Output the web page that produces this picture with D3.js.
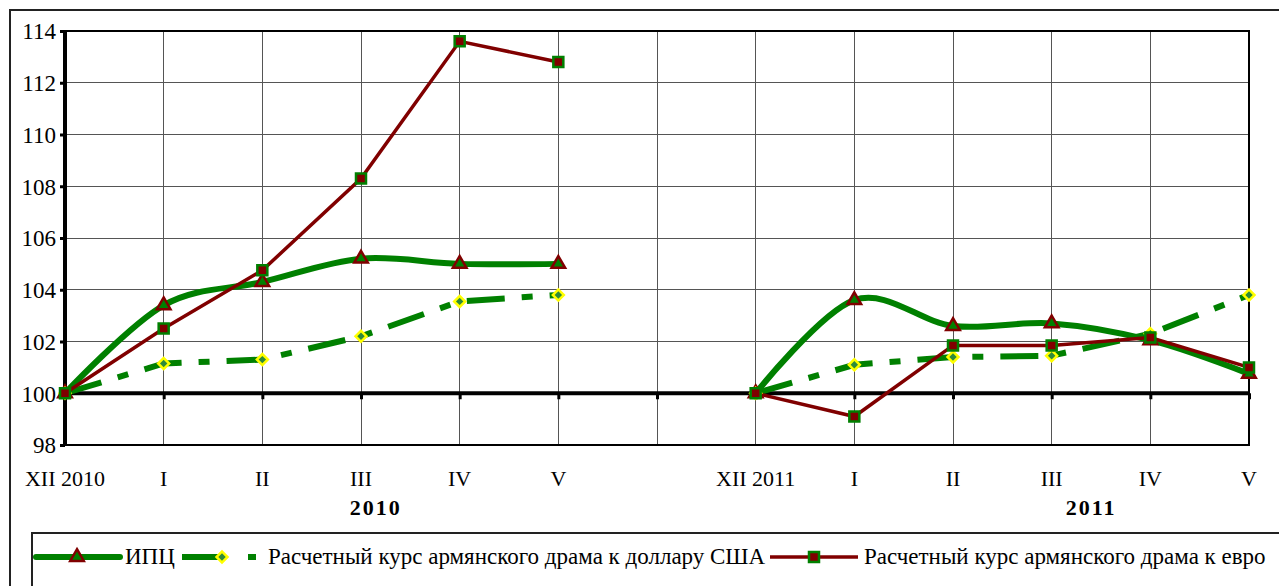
<!DOCTYPE html>
<html lang="ru">
<head>
<meta charset="UTF-8"/>
<title>ИПЦ и курсы драма</title>
<script src="https://d3js.org/d3.v7.min.js"></script>
<style>
	body { margin: 0; background: #fff; }
	.grid line { stroke: #555; stroke-width: 1; shape-rendering: crispEdges; }
</style>
</head>
<body>
<div id="chart"></div>
<script>
// categories (index 6 is the empty slot between the two years)
var categories = ["XII 2010", "I", "II", "III", "IV", "V", "", "XII 2011", "I", "II", "III", "IV", "V"];
var years = [{name: "2010", at: 3.15}, {name: "2011", at: 10.4}];
var yTicks = [98, 100, 102, 104, 106, 108, 110, 112, 114];

// values, null = no value
var cpi = [100, 103.4, 104.3, 105.2, 105.0, 105.0, null, 100, 103.6, 102.6, 102.7, 102.05, 100.75];
var usd = [100, 101.15, 101.3, 102.2, 103.55, 103.8, null, 100, 101.1, 101.4, 101.45, 102.3, 103.8];
var eur = [100, 102.5, 104.75, 108.3, 113.6, 112.8, null, 100, 99.1, 101.85, 101.85, 102.15, 101.0];

var W = 1279, H = 586;
var plot = {left: 65, right: 1249, top: 31, bottom: 445};
var green = "#008000", darkred = "#800000";
var serif = "'Liberation Serif'";

var svg = d3.select("#chart").append("svg")
	.attr("width", W).attr("height", H);

// outer chart border
svg.append("rect")
	.attr("x", 10).attr("y", 10)
	.attr("width", W + 20).attr("height", H + 20)
	.attr("fill", "none").attr("stroke", "#222").attr("stroke-width", 2);

var x = d3.scalePoint()
	.domain(d3.range(categories.length))
	.range([plot.left, plot.right]);
var step = x.step();

var y = d3.scaleLinear()
	.domain([98, 114])
	.range([plot.bottom, plot.top]);

// gridlines
var grid = svg.append("g").attr("class", "grid");
grid.selectAll(".h").data(yTicks).join("line")
	.attr("x1", plot.left).attr("x2", plot.right)
	.attr("y1", function(d){ return y(d); })
	.attr("y2", function(d){ return y(d); });
grid.selectAll(".v").data(d3.range(categories.length)).join("line")
	.attr("x1", function(d){ return x(d); })
	.attr("x2", function(d){ return x(d); })
	.attr("y1", plot.top).attr("y2", plot.bottom);

// plot frame (top, right, bottom)
svg.append("path")
	.attr("d", "M" + plot.left + "," + plot.top + "H" + plot.right + "V" + plot.bottom + "H" + plot.left)
	.attr("fill", "none").attr("stroke", "#000").attr("stroke-width", 2);

// y axis
var yAxis = d3.axisLeft(y).tickValues(yTicks).tickSize(5).tickPadding(4);
var gy = svg.append("g")
	.attr("transform", "translate(" + plot.left + ",0)")
	.call(yAxis)
	.attr("font-family", serif).attr("font-size", 23);
gy.select(".domain").attr("stroke-width", 4).attr("d", "M0," + plot.top + "V" + plot.bottom);
gy.selectAll(".tick line").attr("stroke-width", 3);
gy.selectAll(".tick text").attr("dy", "0.34em").attr("fill", "#000");

// x axis through 100
var xAxis = d3.axisBottom(x).tickSize(6).tickFormat("");
var gx = svg.append("g")
	.attr("transform", "translate(0," + y(100) + ")")
	.call(xAxis);
gx.select(".domain").attr("stroke-width", 4).attr("d", "M" + plot.left + ",0H" + plot.right);
gx.selectAll(".tick line").attr("stroke-width", 3);

// category labels under the plot
svg.selectAll(".cat").data(categories).join("text")
	.attr("font-family", serif).attr("font-size", 22)
	.attr("x", function(d, i){ return x(i); })
	.attr("y", plot.bottom + 41)
	.attr("text-anchor", "middle")
	.text(function(d){ return d; });

svg.selectAll(".year").data(years).join("text")
	.attr("font-family", serif).attr("font-size", 22)
	.attr("font-weight", "bold").attr("letter-spacing", 2)
	.attr("x", function(d){ return plot.left + d.at * step; })
	.attr("y", plot.bottom + 70)
	.attr("text-anchor", "middle")
	.text(function(d){ return d.name; });

// lines
function pts(arr) {
	return arr.map(function(v, i){ return {i: i, v: v}; });
}
var defined = function(d){ return d.v !== null; };

var smooth = d3.line().defined(defined)
	.x(function(d){ return x(d.i); })
	.y(function(d){ return y(d.v); })
	.curve(d3.curveCardinal);
var straight = d3.line().defined(defined)
	.x(function(d){ return x(d.i); })
	.y(function(d){ return y(d.v); });

svg.append("path").datum(pts(cpi))
	.attr("d", smooth)
	.attr("fill", "none").attr("stroke", green).attr("stroke-width", 6);

svg.append("path").datum(pts(usd))
	.attr("d", straight)
	.attr("fill", "none").attr("stroke", green).attr("stroke-width", 6)
	.attr("stroke-dasharray", "38,17,11,17");

svg.append("path").datum(pts(eur))
	.attr("d", straight)
	.attr("fill", "none").attr("stroke", darkred).attr("stroke-width", 3.5);

// markers
var tri = d3.symbol().type(d3.symbolTriangle).size(80);
var dia = d3.symbol().type(d3.symbolSquare).size(60);
var sq = d3.symbol().type(d3.symbolSquare).size(100);

function markers(arr, sym, fill, stroke, rot) {
	svg.append("g").selectAll("path")
		.data(pts(arr).filter(defined))
		.join("path")
		.attr("d", sym)
		.attr("transform", function(d){ return "translate(" + x(d.i) + "," + y(d.v) + ")" + (rot ? " rotate(45)" : ""); })
		.attr("fill", fill).attr("stroke", stroke).attr("stroke-width", 2.5);
}
markers(cpi, tri, green, darkred, false);
markers(usd, dia, "#2e8b3a", "#ffff00", true);
markers(eur, sq, darkred, green, false);

// legend
var lg = svg.append("g");
lg.append("rect")
	.attr("x", 32).attr("y", 533)
	.attr("width", W).attr("height", 100)
	.attr("fill", "#fff").attr("stroke", "#222").attr("stroke-width", 2);

var legendY = 557;
var legendItems = [
	{label: "ИПЦ", x1: 36, x2: 120, tx: 125, kind: "cpi"},
	{label: "Расчетный курс армянского драма к доллару США", x1: 182, x2: 256, tx: 268, kind: "usd"},
	{label: "Расчетный курс армянского драма к евро", x1: 770, x2: 858, tx: 864, kind: "eur"}
];
legendItems.forEach(function(it) {
	var mid = (it.x1 + it.x2) / 2;
	if (it.kind === "cpi") {
		lg.append("line").attr("x1", it.x1).attr("x2", it.x2).attr("y1", legendY).attr("y2", legendY)
			.attr("stroke", green).attr("stroke-width", 6).attr("stroke-linecap", "round");
		lg.append("path").attr("d", tri).attr("transform", "translate(" + (mid - 1) + "," + legendY + ")")
			.attr("fill", green).attr("stroke", darkred).attr("stroke-width", 2.5);
	} else if (it.kind === "usd") {
		lg.append("line").attr("x1", it.x1).attr("x2", it.x2).attr("y1", legendY).attr("y2", legendY)
			.attr("stroke", green).attr("stroke-width", 6).attr("stroke-dasharray", "40,26,10");
		lg.append("path").attr("d", dia).attr("transform", "translate(" + (it.x1 + 40) + "," + legendY + ") rotate(45)")
			.attr("fill", "#2e8b3a").attr("stroke", "#ffff00").attr("stroke-width", 2.5);
	} else {
		lg.append("line").attr("x1", it.x1).attr("x2", it.x2).attr("y1", legendY).attr("y2", legendY)
			.attr("stroke", darkred).attr("stroke-width", 3.5);
		lg.append("path").attr("d", sq).attr("transform", "translate(" + mid + "," + legendY + ")")
			.attr("fill", darkred).attr("stroke", green).attr("stroke-width", 2.5);
	}
	lg.append("text")
		.attr("font-family", serif).attr("font-size", 23)
		.attr("x", it.tx).attr("y", legendY + 7)
		.text(it.label);
});
</script>
</body>
</html>
